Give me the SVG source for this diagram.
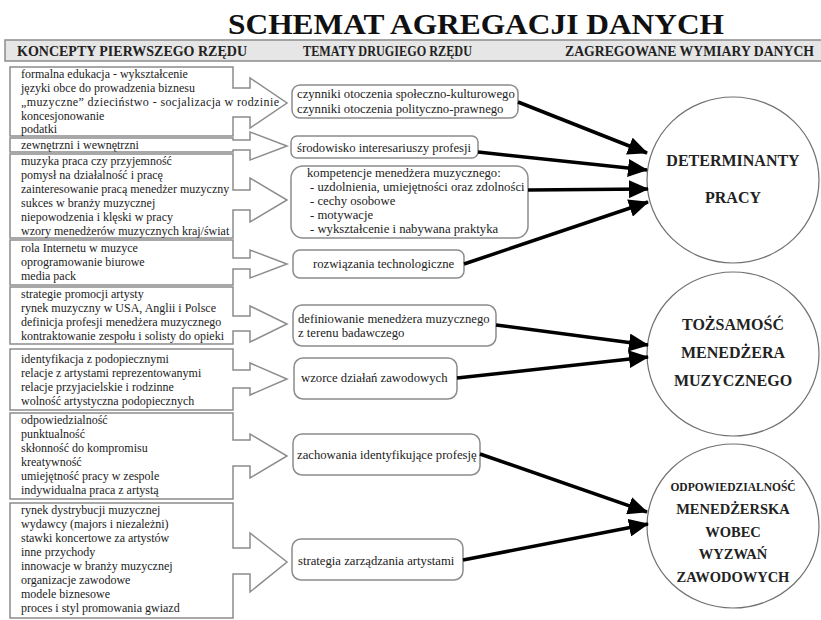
<svg xmlns="http://www.w3.org/2000/svg" width="821" height="620" viewBox="0 0 821 620" font-family="Liberation Serif, Times New Roman, serif">
<style>
.lb{fill:#fff;stroke:#8c8c8c;stroke-width:1.5}
.mb{fill:#fff;stroke:#8c8c8c;stroke-width:1.5}
.t{font-family:Liberation Serif, serif;font-size:12px;fill:#222}
.m{font-family:Liberation Serif, serif;font-size:12.7px;fill:#222}
.hd{font-family:Liberation Serif, serif;font-weight:bold;font-size:13.6px;fill:#222}
.c{font-family:Liberation Serif, serif;font-weight:bold;font-size:16px;fill:#222;text-anchor:middle}
.cs{font-family:Liberation Serif, serif;font-weight:bold;font-size:11.5px;fill:#222;text-anchor:middle}
.cm{font-family:Liberation Serif, serif;font-weight:bold;font-size:14.5px;fill:#222;text-anchor:middle}
.ci{fill:#fff;stroke:#707070;stroke-width:1.2}
.ln{stroke:#000;stroke-width:3.5;fill:none;marker-end:url(#ah)}
</style>
<defs>
<marker id="ah" markerUnits="userSpaceOnUse" viewBox="0 0 20 18" refX="19" refY="9" markerWidth="20" markerHeight="18" orient="auto">
<path d="M0 0 L20 9 L0 18 Z" fill="#000"/>
</marker>
</defs>
<rect width="821" height="620" fill="#fff"/>
<g id="title">
<text x="476" y="34" text-anchor="middle" font-family="Liberation Serif, serif" font-weight="bold" font-size="30" fill="#111" textLength="496" lengthAdjust="spacingAndGlyphs">SCHEMAT AGREGACJI DANYCH</text>
</g>
<g id="header">
<rect x="5" y="40" width="820" height="21" fill="#e6e6e6" stroke="#8c8c8c" stroke-width="1.5"/>
<text class="hd" x="17" y="56" textLength="230" lengthAdjust="spacingAndGlyphs">KONCEPTY PIERWSZEGO RZĘDU</text>
<text class="hd" x="303" y="56" textLength="169" lengthAdjust="spacingAndGlyphs">TEMATY DRUGIEGO RZĘDU</text>
<text class="hd" x="565" y="56" textLength="249" lengthAdjust="spacingAndGlyphs">ZAGREGOWANE WYMIARY DANYCH</text>
</g>
<g id="l1">
<path class="lb" d="M10 67 H233 V88 H250 V78 L287 103 L250 128 V117 H233 V136 H10 Z"/>
<text class="t" x="21" y="78">formalna edukacja - wykształcenie</text>
<text class="t" x="21" y="92">języki obce do prowadzenia biznesu</text>
<text class="t" x="21" y="106" textLength="258" lengthAdjust="spacing">„muzyczne” dzieciństwo - socjalizacja w rodzinie</text>
<text class="t" x="21" y="120">koncesjonowanie</text>
<text class="t" x="21" y="133">podatki</text>
</g>
<g id="l2">
<path class="lb" d="M10 138 H233 V140 H250 V132 L287 146 L250 160 V150 H233 V152 H10 Z"/>
<text class="t" x="21" y="149">zewnętrzni i wewnętrzni</text>
</g>
<g id="l3">
<path class="lb" d="M10 154 H233 V190 H250 V178 L287 200 L250 222 V210 H233 V238 H10 Z"/>
<text class="t" x="21" y="165">muzyka praca czy przyjemność</text>
<text class="t" x="21" y="179">pomysł na działalność i pracę</text>
<text class="t" x="21" y="193">zainteresowanie pracą menedżer muzyczny</text>
<text class="t" x="21" y="207">sukces w branży muzycznej</text>
<text class="t" x="21" y="221">niepowodzenia i klęski w pracy</text>
<text class="t" x="21" y="235">wzory menedżerów muzycznych kraj/świat</text>
</g>
<g id="l4">
<path class="lb" d="M10 240 H233 V258 H250 V250 L287 264 L250 278 V269 H233 V285 H10 Z"/>
<text class="t" x="21" y="252">rola Internetu w muzyce</text>
<text class="t" x="21" y="266">oprogramowanie biurowe</text>
<text class="t" x="21" y="280">media pack</text>
</g>
<g id="l5">
<path class="lb" d="M10 287 H233 V316 H250 V306 L287 324 L250 342 V331 H233 V344 H10 Z"/>
<text class="t" x="21" y="298">strategie promocji artysty</text>
<text class="t" x="21" y="312">rynek muzyczny w USA, Anglii i Polsce</text>
<text class="t" x="21" y="326">definicja profesji menedżera muzycznego</text>
<text class="t" x="21" y="340">kontraktowanie zespołu i solisty do opieki</text>
</g>
<g id="l6">
<path class="lb" d="M10 349 H233 V370 H250 V363 L287 379 L250 395 V388 H233 V410 H10 Z"/>
<text class="t" x="21" y="363">identyfikacja z podopiecznymi</text>
<text class="t" x="21" y="377">relacje z artystami reprezentowanymi</text>
<text class="t" x="21" y="391">relacje przyjacielskie i rodzinne</text>
<text class="t" x="21" y="405">wolność artystyczna podopiecznych</text>
</g>
<g id="l7">
<path class="lb" d="M10 413 H233 V440 H250 V434 L287 456 L250 478 V466 H233 V499 H10 Z"/>
<text class="t" x="21" y="424">odpowiedzialność</text>
<text class="t" x="21" y="438">punktualność</text>
<text class="t" x="21" y="452">skłonność do kompromisu</text>
<text class="t" x="21" y="466">kreatywność</text>
<text class="t" x="21" y="480">umiejętność pracy w zespole</text>
<text class="t" x="21" y="494">indywidualna praca z artystą</text>
</g>
<g id="l8">
<path class="lb" d="M10 503 H233 V548 H250 V533 L287 562 L250 592 V574 H233 V618 H10 Z"/>
<text class="t" x="21" y="514">rynek dystrybucji muzycznej</text>
<text class="t" x="21" y="528">wydawcy (majors i niezależni)</text>
<text class="t" x="21" y="542">stawki koncertowe za artystów</text>
<text class="t" x="21" y="556">inne przychody</text>
<text class="t" x="21" y="570">innowacje w branży muzycznej</text>
<text class="t" x="21" y="584">organizacje zawodowe</text>
<text class="t" x="21" y="598">modele biznesowe</text>
<text class="t" x="21" y="612">proces i styl promowania gwiazd</text>
</g>
<g id="mA">
<rect class="mb" x="292" y="85" width="226" height="33" rx="8"/>
<text class="m" x="297" y="98">czynniki otoczenia społeczno-kulturowego</text>
<text class="m" x="297" y="113">czynniki otoczenia polityczno-prawnego</text>
</g>
<g id="mB">
<rect class="mb" x="291" y="136" width="187" height="22" rx="6"/>
<text class="m" x="297" y="152">środowisko interesariuszy profesji</text>
</g>
<g id="mC">
<rect class="mb" x="291" y="166" width="237" height="72" rx="12"/>
<text class="m" x="307" y="177">kompetencje menedżera muzycznego:</text>
<text class="m" x="310" y="191">- uzdolnienia, umiejętności oraz zdolności</text>
<text class="m" x="310" y="205">- cechy osobowe</text>
<text class="m" x="310" y="219">- motywacje</text>
<text class="m" x="310" y="233">- wykształcenie i nabywana praktyka</text>
</g>
<g id="mD">
<rect class="mb" x="293" y="250" width="171" height="28" rx="7"/>
<text class="m" x="313" y="268">rozwiązania technologiczne</text>
</g>
<g id="mE">
<rect class="mb" x="293" y="305" width="203" height="41" rx="9"/>
<text class="m" x="298" y="323">definiowanie menedżera muzycznego</text>
<text class="m" x="298" y="337">z terenu badawczego</text>
</g>
<g id="mF">
<rect class="mb" x="294" y="358" width="163" height="41" rx="9"/>
<text class="m" x="301" y="382">wzorce działań zawodowych</text>
</g>
<g id="mG">
<rect class="mb" x="293" y="434" width="187" height="41" rx="9"/>
<text class="m" x="297" y="459">zachowania identyfikujące profesję</text>
</g>
<g id="mH">
<rect class="mb" x="292" y="539" width="171" height="41" rx="9"/>
<text class="m" x="298" y="565">strategia zarządzania artystami</text>
</g>
<g id="c1">
<ellipse class="ci" cx="733" cy="180" rx="86" ry="83"/>
<text class="c" x="733" y="166">DETERMINANTY</text>
<text class="c" x="733" y="203">PRACY</text>
</g>
<g id="c2">
<ellipse class="ci" cx="733" cy="354" rx="86" ry="82"/>
<text class="c" x="733" y="330">TOŻSAMOŚĆ</text>
<text class="c" x="733" y="358">MENEDŻERA</text>
<text class="c" x="733" y="386">MUZYCZNEGO</text>
</g>
<g id="c3">
<ellipse class="ci" cx="733" cy="526" rx="86" ry="82"/>
<text class="cs" x="733" y="491">ODPOWIEDZIALNOŚĆ</text>
<text class="cm" x="733" y="514">MENEDŻERSKA</text>
<text class="cm" x="733" y="537">WOBEC</text>
<text class="cm" x="733" y="559">WYZWAŃ</text>
<text class="cm" x="733" y="582">ZAWODOWYCH</text>
</g>
<g id="connectors">
<line class="ln" x1="518" y1="102" x2="647" y2="153"/>
<line class="ln" x1="478" y1="152" x2="647" y2="170"/>
<line class="ln" x1="528" y1="190" x2="648" y2="189"/>
<line class="ln" x1="464" y1="264" x2="648" y2="202"/>
<line class="ln" x1="496" y1="325" x2="648" y2="345"/>
<line class="ln" x1="457" y1="378" x2="648" y2="357"/>
<line class="ln" x1="480" y1="454" x2="647" y2="512"/>
<line class="ln" x1="463" y1="560" x2="648" y2="524"/>
</g>
</svg>
